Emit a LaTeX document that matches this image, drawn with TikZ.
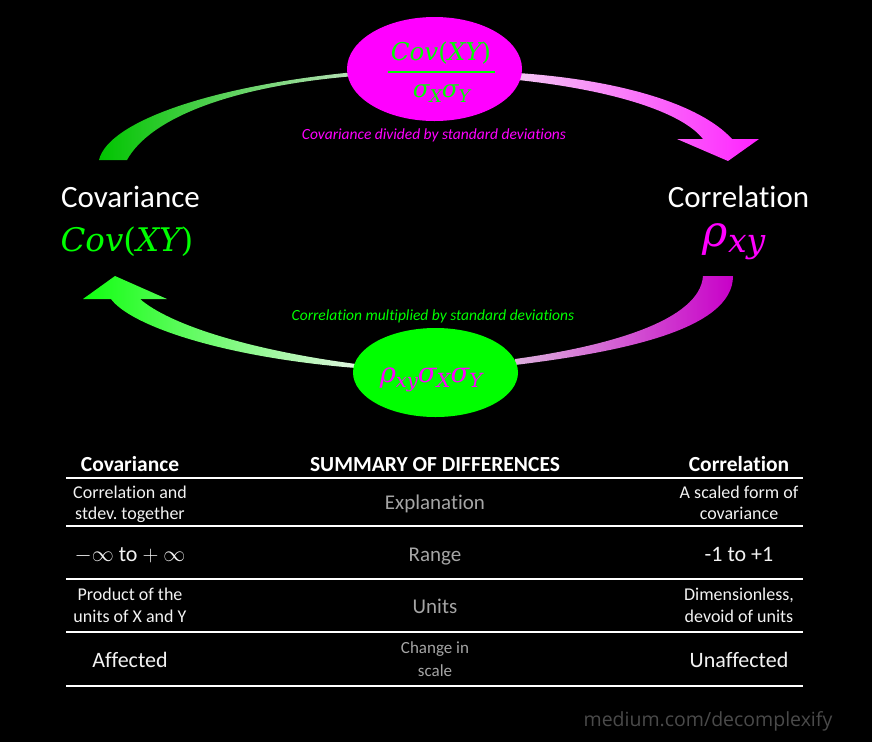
\RequirePackage{fix-cm}
\documentclass[tikz,border=0pt]{standalone}
\usepackage{fontspec}
\setmainfont{Carlito}[Ligatures=NoCommon]
\newfontfamily\footfont{Open Sans}
\newfontfamily\mfont{DejaVu Serif}
\newcommand\dvit[1]{{\mfont\itshape #1}}
\newcommand\dvup[1]{{\mfont #1}}
\newcommand\dsub[3]{\raisebox{#1}{\fontsize{#2}{#2}\selectfont\dvit{#3}}}
\frenchspacing
\usetikzlibrary{shapes.geometric}
\definecolor{mag}{HTML}{FF00FF}
\definecolor{grn}{HTML}{00FF00}
\definecolor{tlA}{HTML}{00C400}
\definecolor{tlB}{HTML}{B8E0B8}
\definecolor{trA}{HTML}{F4C4F4}
\definecolor{trB}{HTML}{FF22FF}
\definecolor{blA}{HTML}{10FF10}
\definecolor{blB}{HTML}{E0F4E0}
\definecolor{brA}{HTML}{DDB0DD}
\definecolor{brB}{HTML}{C800C8}
\definecolor{tw}{HTML}{F2F2F2}
\definecolor{tg}{HTML}{A5A5A5}
\definecolor{footg}{HTML}{4A4A4A}
\begin{document}
\frenchspacing
\begin{tikzpicture}[x=1pt,y=-1pt,
  txt/.style={anchor=base,inner sep=0pt,outer sep=0pt},
  bigw/.style={txt,text=white,font=\fontsize{31}{37}\selectfont},
  hdr/.style={txt,text=white,font=\bfseries\fontsize{21.5}{25}\selectfont},
  celltxt/.style={txt,text=tw,font=\fontsize{18}{22}\selectfont},
  cellbig/.style={txt,text=tw,font=\fontsize{22}{26}\selectfont},
  midtxt/.style={txt,text=tg,font=\fontsize{21}{25}\selectfont},
  midsm/.style={txt,text=tg,font=\fontsize{17}{20}\selectfont},
  capt/.style={txt,font=\itshape\fontsize{15.5}{18}\selectfont},
  tabrule/.style={draw=white,line width=1.2pt},
  blob/.style={ellipse,inner sep=0pt,outer sep=0pt},
]
\fill[black] (0,0) rectangle (872,742);
\useasboundingbox (0,0) rectangle (872,742);

% arcs
\shade[left color=tlA,right color=tlB] (99,160) .. controls (108,122) and (210,86) .. (355,72) -- (355,76) .. controls (232,86) and (150,118) .. (127,160) -- cycle;
\shade[left color=trA,right color=trB] (518,73) .. controls (620,80) and (700,104) .. (732,139) -- (759,139) -- (728,161) -- (677,139) -- (703,139) .. controls (682,112) and (612,90) .. (518,80) -- cycle;
\shade[left color=blA,right color=blB] (83,299) -- (115,276) -- (167,299) -- (140,299) .. controls (170,325) and (250,350) .. (356,364) -- (356,368) .. controls (220,357) and (130,325) .. (111,299) -- cycle;
\shade[left color=brA,right color=brB] (515,359) .. controls (610,346) and (700,320) .. (703,276) -- (733,276) .. controls (733,330) and (620,352) .. (515,365) -- cycle;

% ellipses
\node[blob,fill=mag,minimum width=175pt,minimum height=104pt] (topE) at (434.5,69) {};
\node[blob,fill=grn,minimum width=165pt,minimum height=89pt] (botE) at (435.5,372.5) {};

\node[txt,text=grn,font=\fontsize{24.5}{30}\selectfont] (tnum) at (441,60) {\dvit{Cov}\dvup{(}\dvit{XY}\dvup{)}};
\coordinate (barL) at (388,72);
\coordinate (barR) at (495,72);
\draw[grn,line width=2.2pt] (barL) -- (barR);
\node[txt,text=grn,font=\fontsize{24.5}{30}\selectfont] (tden) at (441.5,97) {\dvit{σ}\dsub{-5pt}{17.5}{X}\dvit{σ}\dsub{-5pt}{17.5}{Y}};
\node[capt,text=mag] (tcap) at (434,139) {Covariance divided by standard deviations};

\node[bigw] (covl) at (130.5,207) {Covariance};
\node[txt,text=grn,font=\fontsize{32.5}{38}\selectfont] (covm) at (127,251) {\dvit{Cov}\dvup{(}\dvit{XY}\dvup{)}};
\node[bigw] (corl) at (738.5,207) {Correlation};
\node[txt,text=mag,font=\fontsize{43}{50}\selectfont] (corm) at (734,246) {\dvit{ρ}\dsub{-6pt}{33}{xy}};

\node[capt,text=grn] (bcap) at (433,320) {Correlation multiplied by standard deviations};
\node[txt,text=mag,font=\fontsize{27.5}{32}\selectfont] (bm) at (431,382) {\dvit{ρ}\dsub{-5pt}{19.5}{xy}\dvit{σ}\dsub{-5pt}{19.5}{X}\dvit{σ}\dsub{-5pt}{19.5}{Y}};

% table
\node[hdr] (h1) at (130,471) {Covariance};
\node[hdr] (h2) at (435,471) {SUMMARY OF DIFFERENCES};
\node[hdr] (h3) at (739,471) {Correlation};
\foreach \yy/\nm in {478/r0,526/r1,579/r2,632/r3,686/r4}{
  \coordinate (\nm L) at (66,\yy);
  \coordinate (\nm R) at (803,\yy);
  \draw[tabrule] (\nm L) -- (\nm R);
}
\node[celltxt] (a1) at (130,498) {Correlation and};
\node[celltxt] (a2) at (130,519) {stdev. together};
\node[midtxt] (m1) at (435,509) {Explanation};
\node[celltxt] (c1) at (739,498) {A scaled form of};
\node[celltxt] (c2) at (739,519) {covariance};

\node[cellbig] (a3) at (130,561) {$-\infty$ to $+\ \infty$};
\node[midtxt] (m2) at (435,561) {Range};
\node[cellbig] (c3) at (739,561) {-1 to +1};

\node[celltxt] (a4) at (130,600) {Product of the};
\node[celltxt] (a5) at (130,622) {units of X and Y};
\node[midtxt] (m3) at (435,613) {Units};
\node[celltxt] (c4) at (739,600) {Dimensionless,};
\node[celltxt] (c5) at (739,622) {devoid of units};

\node[cellbig] (a6) at (130,667) {Affected};
\node[midsm] (m4) at (435,653) {Change in};
\node[midsm] (m5) at (435,676) {scale};
\node[cellbig] (c6) at (739,667) {Unaffected};

\node[txt,text=footg,font=\footfont\fontsize{19.5}{23}\selectfont] (foot) at (708,726) {medium.com/decomplexify};
\end{tikzpicture}
\end{document}
